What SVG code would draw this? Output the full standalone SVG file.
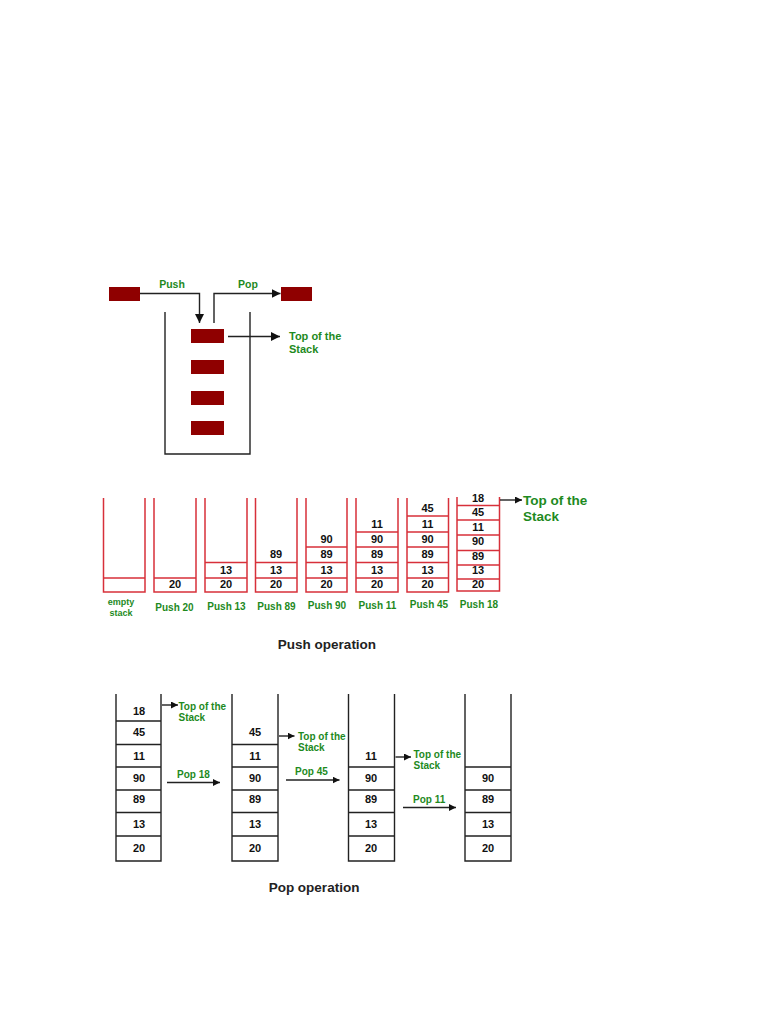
<svg xmlns="http://www.w3.org/2000/svg" width="768" height="1024" viewBox="0 0 768 1024">
<style>
.bg{fill:#ffffff}
.blk{fill:#8f0000}
.ln{stroke:#222;stroke-width:1.4;fill:none}
.rd{stroke:#d7303a;stroke-width:1.5;fill:none}
.g{font-family:"Liberation Sans",Arial,sans-serif;font-weight:bold;fill:#1e8a1e}
.n{font-family:"Liberation Sans",Arial,sans-serif;font-weight:bold;fill:#111;font-size:11px;text-anchor:middle}
.t{font-family:"Liberation Sans",Arial,sans-serif;font-weight:bold;fill:#222;font-size:13.5px;text-anchor:middle}
.pl{font-size:10px;text-anchor:middle}
</style>
<defs>
<marker id="ah" viewBox="0 0 10 10" refX="10" refY="5" markerWidth="7" markerHeight="7" markerUnits="userSpaceOnUse" orient="auto">
<path d="M0,0 L10,5 L0,10 z" fill="#111"/>
</marker>
<marker id="ah2" viewBox="0 0 10 10" refX="10" refY="5" markerWidth="9" markerHeight="9" markerUnits="userSpaceOnUse" orient="auto">
<path d="M0,0 L10,5 L0,10 z" fill="#111"/>
</marker>
</defs>
<rect class="bg" width="768" height="1024"/>

<!-- Top diagram -->
<g id="push-item"><rect class="blk" x="109" y="287" width="31" height="14"/></g>
<g id="pop-item"><rect class="blk" x="281" y="287" width="31" height="14"/></g>
<g id="container"><path class="ln" d="M165,312 V454 H250 V312"/></g>
<g id="stack-items">
<rect class="blk" x="191" y="329" width="33" height="14"/>
<rect class="blk" x="191" y="360" width="33" height="14"/>
<rect class="blk" x="191" y="391" width="33" height="14"/>
<rect class="blk" x="191" y="421" width="33" height="14"/>
</g>
<g id="top-labels">
<text class="g" x="172" y="288" font-size="10.5" text-anchor="middle">Push</text>
<text class="g" x="248" y="288" font-size="10.5" text-anchor="middle">Pop</text>
<text class="g" x="289" y="340" font-size="11">Top of the</text>
<text class="g" x="289" y="353" font-size="11">Stack</text>
</g>

<!-- Push operation stacks -->
<g id="push-stacks">
<g id="s1"><path class="rd" d="M103.5,498 V592 H145 V498 M103.5,578 H145"/></g>
<g id="s2"><path class="rd" d="M154,498 V592 H196 V498 M154,578 H196"/>
<text class="n" x="175" y="588">20</text></g>
<g id="s3"><path class="rd" d="M205,498 V592 H247 V498 M205,578 H247 M205,562.5 H247"/>
<text class="n" x="226" y="588">20</text><text class="n" x="226" y="574">13</text></g>
<g id="s4"><path class="rd" d="M255.5,498 V592 H297 V498 M255.5,578 H297 M255.5,562.5 H297"/>
<text class="n" x="276" y="588">20</text><text class="n" x="276" y="574">13</text><text class="n" x="276" y="558">89</text></g>
<g id="s5"><path class="rd" d="M306,498 V592 H347 V498 M306,578 H347 M306,562.5 H347 M306,547 H347"/>
<text class="n" x="326.5" y="588">20</text><text class="n" x="326.5" y="574">13</text><text class="n" x="326.5" y="558">89</text><text class="n" x="326.5" y="543">90</text></g>
<g id="s6"><path class="rd" d="M356,498 V592 H398 V498 M356,578 H398 M356,562.5 H398 M356,547 H398 M356,532 H398"/>
<text class="n" x="377" y="588">20</text><text class="n" x="377" y="574">13</text><text class="n" x="377" y="558">89</text><text class="n" x="377" y="543">90</text><text class="n" x="377" y="527.5">11</text></g>
<g id="s7"><path class="rd" d="M407,498 V592 H448.5 V498 M407,578 H448.5 M407,562.5 H448.5 M407,547 H448.5 M407,532 H448.5 M407,516 H448.5"/>
<text class="n" x="427.5" y="588">20</text><text class="n" x="427.5" y="574">13</text><text class="n" x="427.5" y="558">89</text><text class="n" x="427.5" y="543">90</text><text class="n" x="427.5" y="527.5">11</text><text class="n" x="427.5" y="512">45</text></g>
<g id="s8"><path class="rd" d="M457,497 V591 H499.5 V497 M457,579 H499.5 M457,565 H499.5 M457,550.5 H499.5 M457,535 H499.5 M457,520 H499.5 M457,505.5 H499.5"/>
<text class="n" x="478" y="588">20</text><text class="n" x="478" y="574">13</text><text class="n" x="478" y="559.5">89</text><text class="n" x="478" y="545">90</text><text class="n" x="478" y="530.5">11</text><text class="n" x="478" y="516">45</text><text class="n" x="478" y="502">18</text></g>
</g>
<g id="push-labels">
<text class="g" x="121" y="605" font-size="9" text-anchor="middle">empty</text>
<text class="g" x="121" y="616" font-size="9" text-anchor="middle">stack</text>
<text class="g pl" x="174.5" y="611">Push 20</text>
<text class="g pl" x="226.5" y="610">Push 13</text>
<text class="g pl" x="276.5" y="610">Push 89</text>
<text class="g pl" x="327" y="609">Push 90</text>
<text class="g pl" x="377.5" y="609">Push 11</text>
<text class="g pl" x="429" y="608">Push 45</text>
<text class="g pl" x="479" y="608">Push 18</text>
<text class="g" x="523" y="505" font-size="13.5">Top of the</text>
<text class="g" x="523" y="521" font-size="13.5">Stack</text>
<text class="t" x="327" y="649">Push operation</text>
</g>

<!-- Pop operation stacks -->
<g id="pop-stacks">
<g id="pA"><path class="ln" d="M116,694 V861 H161 V694 M116,721 H161 M116,744.5 H161 M116,767 H161 M116,790 H161 M116,812.5 H161 M116,836 H161"/>
<text class="n" x="139" y="714.5">18</text><text class="n" x="139" y="736">45</text><text class="n" x="139" y="760">11</text><text class="n" x="139" y="782">90</text><text class="n" x="139" y="803">89</text><text class="n" x="139" y="828">13</text><text class="n" x="139" y="852">20</text></g>
<g id="pB"><path class="ln" d="M232,694 V861 H278 V694 M232,744.5 H278 M232,767 H278 M232,790 H278 M232,812.5 H278 M232,836 H278"/>
<text class="n" x="255" y="736">45</text><text class="n" x="255" y="760">11</text><text class="n" x="255" y="782">90</text><text class="n" x="255" y="803">89</text><text class="n" x="255" y="828">13</text><text class="n" x="255" y="852">20</text></g>
<g id="pC"><path class="ln" d="M348.5,694 V861 H394.5 V694 M348.5,767 H394.5 M348.5,790 H394.5 M348.5,812.5 H394.5 M348.5,836 H394.5"/>
<text class="n" x="371" y="760">11</text><text class="n" x="371" y="782">90</text><text class="n" x="371" y="803">89</text><text class="n" x="371" y="828">13</text><text class="n" x="371" y="852">20</text></g>
<g id="pD"><path class="ln" d="M465,694 V861 H511 V694 M465,767 H511 M465,790 H511 M465,812.5 H511 M465,836 H511"/>
<text class="n" x="488" y="782">90</text><text class="n" x="488" y="803">89</text><text class="n" x="488" y="828">13</text><text class="n" x="488" y="852">20</text></g>
</g>
<g id="pop-labels">
<text class="g" x="178.5" y="710" font-size="10">Top of the</text>
<text class="g" x="178.5" y="721" font-size="10">Stack</text>
<text class="g" x="298" y="740" font-size="10">Top of the</text>
<text class="g" x="298" y="751" font-size="10">Stack</text>
<text class="g" x="413.5" y="758" font-size="10">Top of the</text>
<text class="g" x="413.5" y="769" font-size="10">Stack</text>
<text class="g" x="177" y="777.5" font-size="10">Pop 18</text>
<text class="g" x="295" y="775" font-size="10">Pop 45</text>
<text class="g" x="413" y="802.5" font-size="10">Pop 11</text>
<text class="t" x="314" y="892">Pop operation</text>
</g>

<!-- Connectors -->
<g id="connectors">
<path class="ln" d="M140,293.5 H199.5 V323" marker-end="url(#ah2)"/>
<path class="ln" d="M214,323 V293.5 H280.5" marker-end="url(#ah2)"/>
<path class="ln" d="M228,336.5 H280" marker-end="url(#ah2)"/>
<path class="ln" d="M500,500 H522" marker-end="url(#ah)"/>
<path class="ln" d="M162,705 H178" marker-end="url(#ah)"/>
<path class="ln" d="M279,736 H294.5" marker-end="url(#ah)"/>
<path class="ln" d="M395.5,757 H411" marker-end="url(#ah)"/>
<path class="ln" d="M167,782.5 H220" marker-end="url(#ah)"/>
<path class="ln" d="M286,780 H339.5" marker-end="url(#ah)"/>
<path class="ln" d="M403,807.5 H456" marker-end="url(#ah)"/>
</g>
</svg>
